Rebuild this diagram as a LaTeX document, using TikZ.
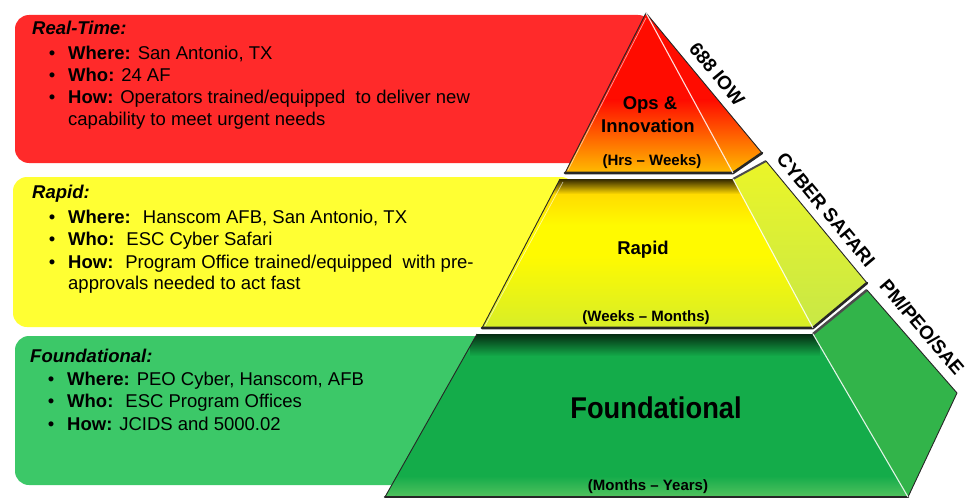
\documentclass[tikz,border=0pt]{standalone}
\usepackage{fontspec}
\setmainfont{Liberation Sans}
\usetikzlibrary{fadings,calc}
\definecolor{boxred}{RGB}{255,42,42}
\definecolor{boxyellow}{RGB}{255,255,51}
\definecolor{boxgreen}{RGB}{60,200,104}
\definecolor{pyrred}{RGB}{255,12,0}
\definecolor{pyrorange}{RGB}{255,110,0}
\definecolor{pyramber}{RGB}{255,190,0}
\definecolor{midtop}{RGB}{255,205,0}
\definecolor{midyel}{RGB}{255,250,0}
\definecolor{midlime}{RGB}{215,238,40}
\definecolor{sidelimetop}{RGB}{235,245,40}
\definecolor{sidelime}{RGB}{200,232,70}
\definecolor{botgreen}{RGB}{20,172,74}
\definecolor{botlight}{RGB}{85,195,95}
\definecolor{sidegreen}{RGB}{50,180,74}
\tikzfading[name=shadowdown, top color=transparent!0, bottom color=transparent!100]
\begin{document}
\begin{tikzpicture}[x=1pt,y=-1pt,
  boxtext/.style={anchor=base west, inner sep=0pt, font=\fontsize{18.5}{22}\selectfont},
  boxtitle/.style={anchor=base west, inner sep=0pt, font=\fontsize{18.5}{22}\selectfont\bfseries\itshape},
  bul/.style={anchor=base, inner sep=0pt, font=\fontsize{18.5}{22}\selectfont},
  ptext/.style={inner sep=0pt, font=\fontsize{18.5}{22}\selectfont\bfseries},
  rangetext/.style={inner sep=0pt, font=\fontsize{15}{18}\selectfont\bfseries},
  sidetext/.style={inner sep=0pt, font=\fontsize{19}{22}\selectfont\bfseries},
  outline/.style={draw=black!85, line width=0.9pt, line join=round},
  baseedge/.style={draw=black!85, line width=2.6pt, line cap=round, line join=round},
  ridge/.style={draw=white, line width=1.1pt, opacity=0.85},
  glint/.style={draw=white, line width=0.7pt, opacity=0.6}
]
\useasboundingbox (0,0) rectangle (966,500);

% ---------- text boxes ----------
\fill[boxred,rounded corners=14pt] (15,15) rectangle (652,163);
\fill[boxyellow,rounded corners=14pt] (13,177) rectangle (575,327);
\fill[boxgreen,rounded corners=14pt] (15,336) rectangle (520,485);

% ---------- pyramid coordinates ----------
\coordinate (A) at (646,13);
\coordinate (TL) at (565,173);
\coordinate (TR) at (733,173);
\coordinate (TB) at (762,153);
\coordinate (ML1) at (560,179);
\coordinate (MR1) at (733,179);
\coordinate (MB1) at (766,161);
\coordinate (ML2) at (482,328);
\coordinate (MR2) at (813,328);
\coordinate (MB2) at (867,283);
\coordinate (BL1) at (477,334);
\coordinate (BR1) at (813,334);
\coordinate (BB1) at (867,290);
\coordinate (BL2) at (385,497);
\coordinate (BR2) at (908,497);
\coordinate (BB2) at (957,393);

% ---------- bottom tier ----------
\fill[botgreen] (BL1)--(BR1)--(BR2)--(BL2)--cycle;
\begin{scope}
  \clip (BL1)--(BR1)--(BR2)--(BL2)--cycle;
  \shade[top color=botgreen, bottom color=botlight] (380,476) rectangle (910,498);
  \fill[black, path fading=shadowdown, opacity=0.75] (470,334) rectangle (820,356);
\end{scope}
\fill[sidegreen] (BR1)--(BB1)--(BB2)--(BR2)--cycle;
\draw[black!70, line width=2.5pt] (BR1)--(BB1);
\draw[outline] (BL2)--(BL1);
\draw[outline] (BB1)--(BB2)--(BR2);
\draw[baseedge] (BL2)--(BR2);
\draw[ridge] (BR1)--(BR2);

% ---------- middle tier ----------
\fill[midyel] (ML1)--(MR1)--(MR2)--(ML2)--cycle;
\begin{scope}
  \clip (ML1)--(MR1)--(MR2)--(ML2)--cycle;
  \shade[top color=midtop, bottom color=midyel] (470,179) rectangle (820,225);
  \shade[top color=midyel, bottom color=midlime] (470,255) rectangle (820,328);
  \fill[black, path fading=shadowdown, opacity=0.8] (470,179) rectangle (740,194);
\end{scope}
\shade[top color=sidelimetop, bottom color=sidelime] (MR1)--(MB1)--(MB2)--(MR2)--cycle;
\draw[black!70, line width=2pt] (MR1)--(MB1);
\draw[glint] ($(ML2)+(3,-2)$)--($(ML1)+(3,3)$);
\draw[outline] (ML2)--(ML1);
\draw[outline] (MB1)--(MB2);
\draw[baseedge] (ML2)--(MR2)--(MB2);
\draw[ridge] (MR1)--(MR2);

% ---------- top tier ----------
\fill[pyrred] (A)--(TL)--(TR)--cycle;
\begin{scope}
  \clip (A)--(TL)--(TR)--cycle;
  \shade[top color=pyrred, middle color=pyrorange, bottom color=pyramber] (540,100) rectangle (770,174);
\end{scope}
\fill[pyrred] (A)--(TR)--(TB)--cycle;
\begin{scope}
  \clip (A)--(TR)--(TB)--cycle;
  \shade[top color=pyrred, middle color=pyrorange, bottom color=pyramber] (640,100) rectangle (770,174);
\end{scope}
\draw[glint] (568,170)--(646,18);
\draw[outline] (TL)--(A)--(TB);
\draw[baseedge] (TL)--(TR)--(TB);
\draw[ridge] (A)--(TR);

% ---------- pyramid labels ----------
\node[ptext] (ops) at (650,105) {Ops \&};
\node[ptext] (innov) at (648,126) {Innovation};
\node[rangetext] (hrs) at (652,162) {(Hrs – Weeks)};
\node[ptext] (rapid) at (643,250) {Rapid};
\node[rangetext] (wm) at (646,318) {(Weeks – Months)};
\node[inner sep=0pt, font=\fontsize{30}{34}\selectfont\bfseries] (fd) at (656,408) {\scalebox{0.91}[1]{Foundational}};
\node[rangetext] (my) at (648,487) {(Months – Years)};

\node[sidetext, rotate=-50.4] (iow) at (717,74) {688 IOW};
\node[sidetext, rotate=-50.1] (cs) at (826,210) {CYBER SAFARI};
\node[sidetext, rotate=-49.5] (pm) at (922,327) {PM/PEO/SAE};

% ---------- red box text ----------
\node[boxtitle] (rt) at (32,35) {Real-Time:};
\node[bul] (rb1) at (52,60) {•};
\node[boxtext] (rw) at (68,60) {\textbf{Where:} San Antonio, TX};
\node[bul] (rb2) at (52,82) {•};
\node[boxtext] (rwho) at (68,82) {\textbf{Who:} 24 AF};
\node[bul] (rb3) at (52,104) {•};
\node[boxtext] (rhow) at (68,104) {\textbf{How:} Operators trained/equipped~ to deliver new};
\node[boxtext] (rhow2) at (68,126) {capability to meet urgent needs};

% ---------- yellow box text ----------
\node[boxtitle] (yt) at (32,198) {Rapid:};
\node[bul] (yb1) at (52,223) {•};
\node[boxtext] (yw) at (68,223) {\textbf{Where:}~ Hanscom AFB, San Antonio, TX};
\node[bul] (yb2) at (52,245) {•};
\node[boxtext] (ywho) at (68,245) {\textbf{Who:}~ ESC Cyber Safari};
\node[bul] (yb3) at (52,268) {•};
\node[boxtext] (yhow) at (68,268) {\textbf{How:}~ Program Office trained/equipped~ with pre-};
\node[boxtext] (yhow2) at (68,289) {approvals needed to act fast};

% ---------- green box text ----------
\node[boxtitle] (gt) at (30,362) {Foundational:};
\node[bul] (gb1) at (51,385) {•};
\node[boxtext] (gw) at (67,385) {\textbf{Where:} PEO Cyber, Hanscom, AFB};
\node[bul] (gb2) at (51,407) {•};
\node[boxtext] (gwho) at (67,407) {\textbf{Who:}~ ESC Program Offices};
\node[bul] (gb3) at (51,430) {•};
\node[boxtext] (ghow) at (67,430) {\textbf{How:} JCIDS and 5000.02};
\end{tikzpicture}
\end{document}
